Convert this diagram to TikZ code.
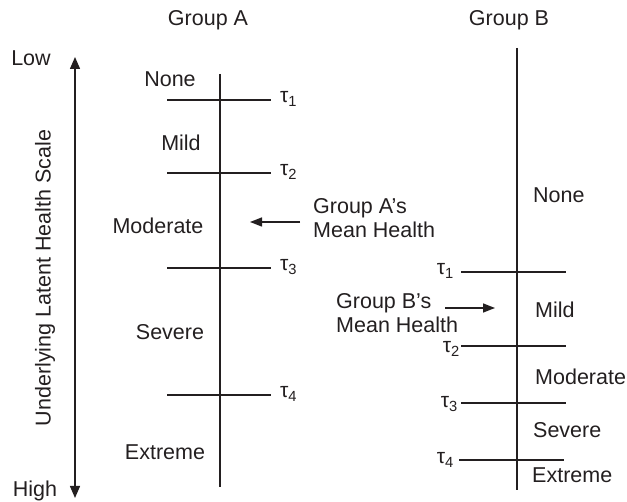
\documentclass[tikz,border=0pt]{standalone}
\usepackage{fontspec}
\setmainfont{Liberation Sans}
\usepackage{xcolor}
\usetikzlibrary{arrows.meta, positioning}
\definecolor{scaleink}{HTML}{231F20}

\tikzset{
  lbl/.style={font=\fontsize{21.5}{24}\selectfont, text=scaleink, inner sep=0pt},
  tau/.style={font=\fontsize{21}{23}\selectfont, text=scaleink, inner sep=0pt},
  scaleline/.style={draw=scaleink, line width=1.4pt},
  meanarrow/.style={draw=scaleink, line width=1.4pt, -{Triangle[length=12pt,width=9pt]}}
}
\newcommand{\thr}[1]{τ\textsubscript{#1}}

\begin{document}
\begin{tikzpicture}[x=1pt, y=-1pt]
    \useasboundingbox (0,0) rectangle (627,502);
    % Headings
    \node[lbl] (hdA) at (208,20) {Group A};
    \node[lbl] (hdB) at (509,20) {Group B};
    % Latent scale axis
    \coordinate (axtop) at (75,57);
    \coordinate (axbot) at (75,498);
    \draw[scaleline, {Triangle[length=12pt,width=10pt]}-{Triangle[length=12pt,width=10pt]}] (axtop) -- (axbot);
    \node[lbl] (low) at (31,58) {Low};
    \node[lbl] (high) at (35,491) {High};
    \node[lbl, rotate=90] (axlbl) at (45,278) {Underlying Latent Health Scale};
    % Group A scale
    \draw[scaleline] (220,74) -- (220,487);
    \draw[scaleline] (167,100) -- (271,100);
    \draw[scaleline] (167,173) -- (271,173);
    \draw[scaleline] (167,268) -- (271,268);
    \draw[scaleline] (167,395) -- (271,395);
    \node[tau, anchor=west] (aT1) at (280,99) {\thr{1}};
    \node[tau, anchor=west] (aT2) at (280,172) {\thr{2}};
    \node[tau, anchor=west] (aT3) at (280,267) {\thr{3}};
    \node[tau, anchor=west] (aT4) at (280,394) {\thr{4}};
    \node[lbl] (aNone) at (170,79) {None};
    \node[lbl] (aMild) at (181,143) {Mild};
    \node[lbl] (aMod) at (158,226) {Moderate};
    \node[lbl] (aSev) at (170,332) {Severe};
    \node[lbl] (aExt) at (165,452) {Extreme};
    % Group A mean
    \node[lbl, align=left, anchor=north west] (aMean) at (313,198) {Group A’s\\Mean Health};
    \coordinate (aMeanFrom) at (300,222);
    \coordinate (aMeanTo) at (250,222);
    \draw[meanarrow] (aMeanFrom) -- (aMeanTo);
    % Group B scale
    \draw[scaleline] (517,48) -- (517,490);
    \draw[scaleline] (461,272) -- (566,272);
    \draw[scaleline] (461,346) -- (566,346);
    \draw[scaleline] (461,403) -- (566,403);
    \draw[scaleline] (459,460) -- (564,460);
    \node[tau, anchor=east] (bT1) at (454,271) {\thr{1}};
    \node[tau, anchor=east] (bT2) at (460,349) {\thr{2}};
    \node[tau, anchor=east] (bT3) at (458,404) {\thr{3}};
    \node[tau, anchor=east] (bT4) at (454,460) {\thr{4}};
    \node[lbl, anchor=west] (bNone) at (533,195) {None};
    \node[lbl, anchor=west] (bMild) at (535,310) {Mild};
    \node[lbl, anchor=west] (bMod) at (535,377) {Moderate};
    \node[lbl, anchor=west] (bSev) at (533,430) {Severe};
    \node[lbl, anchor=west] (bExt) at (532,475) {Extreme};
    % Group B mean
    \node[lbl, align=left, anchor=north west] (bMean) at (336,293) {Group B’s\\Mean Health};
    \coordinate (bMeanFrom) at (445,308);
    \coordinate (bMeanTo) at (495,308);
    \draw[meanarrow] (bMeanFrom) -- (bMeanTo);
\end{tikzpicture}
\end{document}
